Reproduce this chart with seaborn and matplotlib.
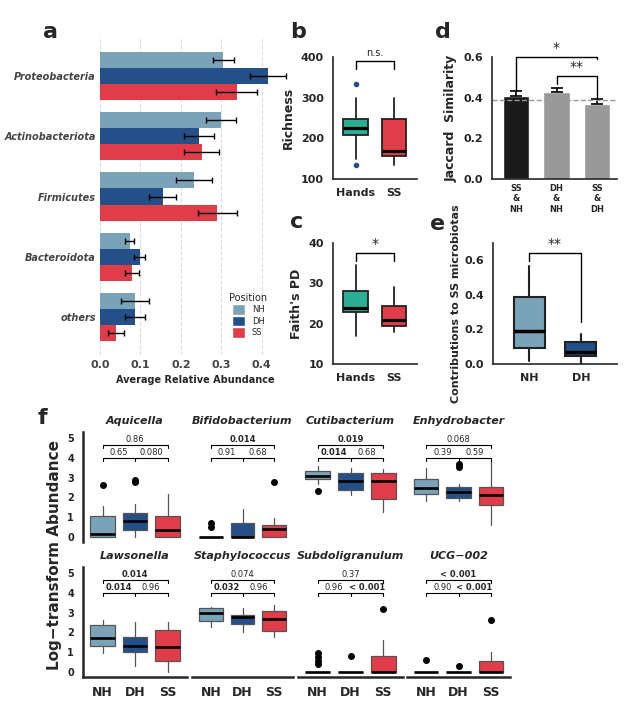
import matplotlib
matplotlib.use("Agg")
import matplotlib.pyplot as plt
import seaborn as sns
import pandas as pd
import numpy as np

sns.set_style("white")
plt.rcParams['font.family'] = ['DejaVu Sans']

# ---------------- data ----------------
phyla = ["Proteobacteria", "Actinobacteriota", "Firmicutes", "Bacteroidota", "others"]
positions = ["NH", "DH", "SS"]
abund_NH = [0.305, 0.300, 0.233, 0.073, 0.087]
abund_DH = [0.415, 0.245, 0.155, 0.098, 0.087]
abund_SS = [0.338, 0.252, 0.290, 0.080, 0.040]
err_NH = [0.026, 0.037, 0.045, 0.010, 0.035]
err_DH = [0.045, 0.038, 0.033, 0.014, 0.025]
err_SS = [0.050, 0.043, 0.048, 0.017, 0.020]

groups_bc = ["Hands", "SS"]
richness_stats = [[148, 207, 226, 247, 300], [135, 157, 168, 247, 300]]
richness_fliers = [[333, 135], []]
faith_stats = [[17, 23, 24, 28, 34.5], [18, 19.5, 21, 24.5, 29]]

jac_labels = ["SS\n&\nNH", "DH\n&\nNH", "SS\n&\nDH"]
jac_vals = [0.41, 0.43, 0.37]
jac_err = [0.025, 0.018, 0.025]
jac_ref = 0.39

contrib_groups = ["NH", "DH"]
contrib_stats = [[0.02, 0.09, 0.19, 0.385, 0.565], [0.005, 0.045, 0.07, 0.125, 0.175]]

genera = ["Aquicella", "Bifidobacterium", "Cutibacterium", "Enhydrobacter",
          "Lawsonella", "Staphylococcus", "Subdoligranulum", "UCG\u2212002"]
genus_stats = [
    [[0, 0, 0.15, 1.05, 1.55], [0, 0.35, 0.8, 1.22, 1.65], [0, 0, 0.35, 1.05, 2.15]],
    [[0, 0, 0, 0, 0], [0, 0, 0, 0.7, 1.4], [0, 0, 0.4, 0.6, 0.95]],
    [[2.7, 2.95, 3.1, 3.35, 3.6], [2.1, 2.35, 2.85, 3.25, 3.5], [1.25, 1.9, 2.85, 3.25, 3.45]],
    [[1.8, 2.15, 2.45, 2.95, 3.5], [1.8, 1.95, 2.25, 2.55, 2.7], [0.6, 1.6, 2.1, 2.55, 3.85]],
    [[0.95, 1.3, 1.72, 2.38, 2.65], [0.3, 1.02, 1.3, 1.77, 2.5], [0, 0.55, 1.27, 2.1, 2.5]],
    [[2.25, 2.6, 3.0, 3.25, 3.3], [2.0, 2.4, 2.8, 2.9, 3.25], [1.75, 2.05, 2.7, 3.1, 3.4]],
    [[0, 0, 0, 0, 0], [0, 0, 0, 0, 0], [0, 0, 0, 0.8, 1.6]],
    [[0, 0, 0, 0, 0], [0, 0, 0, 0, 0], [0, 0, 0, 0.55, 1.0]],
]
genus_fliers = [
    [[2.65], [2.8, 2.9], []],
    [[0.5, 0.7], [], [2.8]],
    [[2.3], [], []],
    [[], [3.55, 3.7], []],
    [[], [], []],
    [[], [], []],
    [[0.4, 0.55, 0.75, 0.95], [0.8], [3.2]],
    [[0.6], [0.3], [2.65]],
]
# p-values: (NH vs SS, NH vs DH, DH vs SS)
genus_p = [("0.86", "0.65", "0.080"), ("0.014", "0.91", "0.68"), ("0.019", "0.014", "0.68"),
           ("0.068", "0.39", "0.59"), ("0.014", "0.014", "0.96"), ("0.074", "0.032", "0.96"),
           ("0.37", "0.96", "< 0.001"), ("< 0.001", "0.90", "< 0.001")]
genus_bold = [(False, False, False), (True, False, False), (True, True, False),
              (False, False, False), (True, True, False), (False, True, False),
              (False, False, True), (True, False, True)]

# ---------------- style ----------------
C_NH, C_DH, C_SS = "#7BA3B8", "#24508A", "#E03C4A"
C_HANDS = "#2BAE93"
pal = [C_NH, C_DH, C_SS]
W, H = 629, 707
fig = plt.figure(figsize=(W / 100, H / 100), dpi=100)

def ax_px(l, t, r, b):
    return fig.add_axes([l / W, 1 - b / H, (r - l) / W, (b - t) / H])

def bxp(ax, stats, fliers, colors, lw=1.0, edge="#555555", width=0.6, pos=None, fsize=4, fcol="black"):
    d = []
    for s, f in zip(stats, fliers):
        d.append(dict(whislo=s[0], q1=s[1], med=s[2], q3=s[3], whishi=s[4], fliers=f))
    pos = pos if pos is not None else list(range(len(d)))
    b = ax.bxp(d, positions=pos, widths=width, patch_artist=True, showcaps=False,
               boxprops=dict(linewidth=lw, edgecolor=edge),
               whiskerprops=dict(linewidth=lw, color=edge),
               medianprops=dict(linewidth=lw + 1.0, color="black"),
               flierprops=dict(marker="o", markersize=fsize, markerfacecolor=fcol, markeredgecolor=fcol))
    for p, c in zip(b["boxes"], colors):
        p.set_facecolor(c)
    return b

def bracket(ax, x1, x2, y, h1, h2, text, fs=10, dy=0.0, bold=False, lw=1.0):
    ax.plot([x1, x1, x2, x2], [y - h1, y, y, y - h2], color="black", lw=lw, clip_on=False)
    ax.text((x1 + x2) / 2, y + dy, text, ha="center", va="bottom", fontsize=fs,
            fontweight="bold" if bold else "normal", clip_on=False)

# ---------------- panel a ----------------
ax = ax_px(100, 38, 290, 355)
dfa = pd.DataFrame({"Phylum": phyla * 3,
                    "Position": sum([[p] * len(phyla) for p in positions], []),
                    "Abundance": abund_NH + abund_DH + abund_SS})
sns.barplot(data=dfa, y="Phylum", x="Abundance", hue="Position", hue_order=positions,
            palette=pal, orient="h", errorbar=None, width=0.8, gap=0, saturation=1, ax=ax)
for cont, es in zip(ax.containers, [err_NH, err_DH, err_SS]):
    for patch, e in zip(cont.patches, es):
        patch.set_linewidth(0)
        yc = patch.get_y() + patch.get_height() / 2
        ax.errorbar(patch.get_width(), yc, xerr=e, color="black", lw=1, capsize=2, capthick=1)
ax.set_xlim(0, 0.47)
ax.set_xticks([0, 0.1, 0.2, 0.3, 0.4])
ax.set_xticklabels(["0.0", "0.1", "0.2", "0.3", "0.4"], fontsize=8, color="#444444", fontweight="bold")
ax.xaxis.grid(True, ls="--", color="#dddddd", lw=0.8)
ax.set_axisbelow(True)
for s in ax.spines.values():
    s.set_visible(False)
ax.set_ylabel("")
ax.set_xlabel("Average Relative Abundance", fontsize=7, fontweight="bold")
ax.tick_params(axis="y", length=0, pad=3)
ax.set_yticklabels(phyla, fontsize=7, fontstyle="italic", fontweight="bold", color="#444444")
ax.tick_params(axis="x", length=0)
ax.legend(title="Position", loc="lower right", frameon=False, fontsize=6,
          title_fontsize=7, handlelength=1.6, handleheight=1.6, labelspacing=0.1,
          bbox_to_anchor=(0.92, 0.03))
fig.text(43 / W, 1 - 32 / H, "a", fontsize=16, fontweight="bold", va="center")

# ---------------- panel b ----------------
def style_box_ax(ax):
    sns.despine(ax=ax)
    for s in ["left", "bottom"]:
        ax.spines[s].set_linewidth(1.2)
    ax.tick_params(axis="both", labelsize=8, width=1.2, length=3)
    for t in ax.get_yticklabels() + ax.get_xticklabels():
        t.set_fontweight("bold")

ax = ax_px(333, 57, 417, 179)
bxp(ax, richness_stats, richness_fliers, [C_HANDS, C_SS], lw=1.3, edge="#222222",
    width=0.65, fsize=3, fcol=C_DH)
ax.set_ylim(100, 400)
ax.set_yticks([100, 200, 300, 400])
ax.set_xlim(-0.6, 1.6)
ax.set_xticks([0, 1])
ax.set_xticklabels(groups_bc)
ax.set_ylabel("Richness", fontsize=9, fontweight="bold")
style_box_ax(ax)
bracket(ax, 0, 1, 390, 20, 20, "n.s.", fs=7, dy=8)
fig.text(290 / W, 1 - 32 / H, "b", fontsize=16, fontweight="bold", va="center")

# ---------------- panel c ----------------
ax = ax_px(333, 243, 417, 364)
bxp(ax, faith_stats, [[], []], [C_HANDS, C_SS], lw=1.3, edge="#222222", width=0.65)
ax.set_ylim(10, 40)
ax.set_yticks([10, 20, 30, 40])
ax.set_xlim(-0.6, 1.6)
ax.set_xticks([0, 1])
ax.set_xticklabels(groups_bc)
ax.set_ylabel("Faith's PD", fontsize=9, fontweight="bold")
style_box_ax(ax)
bracket(ax, 0, 1, 37.5, 2, 2, "*", fs=10, dy=0.5)
fig.text(290 / W, 1 - 222 / H, "c", fontsize=16, fontweight="bold", va="center")

# ---------------- panel d ----------------
ax = ax_px(492, 57, 617, 179)
dfd = pd.DataFrame({"pair": jac_labels, "sim": jac_vals})
sns.barplot(data=dfd, x="pair", y="sim", hue="pair", palette=["#1a1a1a", "#999999", "#999999"],
            width=0.65, errorbar=None, saturation=1, legend=False, ax=ax)
for patch, e in zip(ax.patches, jac_err):
    xc = patch.get_x() + patch.get_width() / 2
    ax.errorbar(xc, patch.get_height(), yerr=[[0], [e]], color="black", lw=1.2, capsize=4, capthick=1.2)
ax.axhline(jac_ref, ls="--", color="#999999", lw=1)
ax.set_ylim(0, 0.6)
ax.set_yticks([0, 0.2, 0.4, 0.6])
ax.set_xlim(-0.6, 2.5)
ax.set_xlabel("")
ax.set_ylabel("Jaccard  Similarity", fontsize=9, fontweight="bold")
style_box_ax(ax)
ax.tick_params(axis="x", labelsize=6, length=0)
bracket(ax, 0, 2, 0.6, 0.165, 0.01, "*", fs=10, dy=0.01)
bracket(ax, 1, 2, 0.505, 0.04, 0.11, "**", fs=10, dy=0.01)
fig.text(435 / W, 1 - 32 / H, "d", fontsize=16, fontweight="bold", va="center")

# ---------------- panel e ----------------
ax = ax_px(493, 243, 617, 364)
bxp(ax, contrib_stats, [[], []], [C_NH, C_DH], lw=1.5, edge="#222222", width=0.6)
ax.set_ylim(0, 0.7)
ax.set_yticks([0, 0.2, 0.4, 0.6])
ax.set_xlim(-0.7, 1.7)
ax.set_xticks([0, 1])
ax.set_xticklabels(contrib_groups)
ax.set_ylabel("Contributions to SS microbiotas", fontsize=8, fontweight="bold", labelpad=2)
style_box_ax(ax)
bracket(ax, 0, 1, 0.645, 0.05, 0.4, "**", fs=10, dy=0.01)
fig.text(430 / W, 1 - 224 / H, "e", fontsize=16, fontweight="bold", va="center")

# ---------------- panel f ----------------
cols = [(83, 187), (192, 293), (298, 403), (407, 510)]
rows = [(432, 542), (567, 677)]
for i, g in enumerate(genera):
    r, c = divmod(i, 4)
    l, rr = cols[c]
    t, b = rows[r]
    ax = ax_px(l, t, rr, b)
    bxp(ax, genus_stats[i], genus_fliers[i], pal, lw=0.9, edge="#555555", width=0.75, fsize=4)
    ax.set_ylim(-0.25, 5.3)
    ax.set_xlim(-0.6, 2.6)
    ax.set_title(g, fontsize=8, fontstyle="italic", fontweight="bold", pad=6)
    for s in ["top", "right"]:
        ax.spines[s].set_visible(False)
    ax.spines["left"].set_visible(c == 0)
    ax.spines["bottom"].set_visible(r == 1)
    for s in ["left", "bottom"]:
        ax.spines[s].set_linewidth(1.8)
    if c == 0:
        ax.set_yticks([0, 1, 2, 3, 4, 5])
        ax.tick_params(axis="y", labelsize=7, width=1.5, length=3)
    else:
        ax.set_yticks([])
    ax.set_xticks([0, 1, 2])
    if r == 1:
        ax.set_xticklabels(positions, fontsize=9, fontweight="bold")
        ax.tick_params(axis="x", width=1.5, length=3)
    else:
        ax.set_xticklabels([])
        ax.tick_params(axis="x", length=0)
    ps, bs = genus_p[i], genus_bold[i]
    bracket(ax, 0, 2, 4.65, 0.15, 0.15, ps[0], fs=6, dy=0.05, bold=bs[0], lw=0.8)
    ax.plot([0, 0, 2, 2], [3.85, 4.0, 4.0, 3.85], color="black", lw=0.8)
    ax.plot([1, 1], [3.85, 4.0], color="black", lw=0.8)
    ax.text(0.5, 4.05, ps[1], ha="center", va="bottom", fontsize=6, fontweight="bold" if bs[1] else "normal")
    ax.text(1.5, 4.05, ps[2], ha="center", va="bottom", fontsize=6, fontweight="bold" if bs[2] else "normal")
    for t in ax.get_yticklabels():
        t.set_fontweight("bold")
fig.text(55 / W, 1 - 555 / H, "Log\u2212transform Abundance", rotation=90, fontsize=11,
         fontweight="bold", ha="center", va="center")
fig.text(38 / W, 1 - 418 / H, "f", fontsize=16, fontweight="bold", va="center")

fig.savefig("out.png", dpi=100)
